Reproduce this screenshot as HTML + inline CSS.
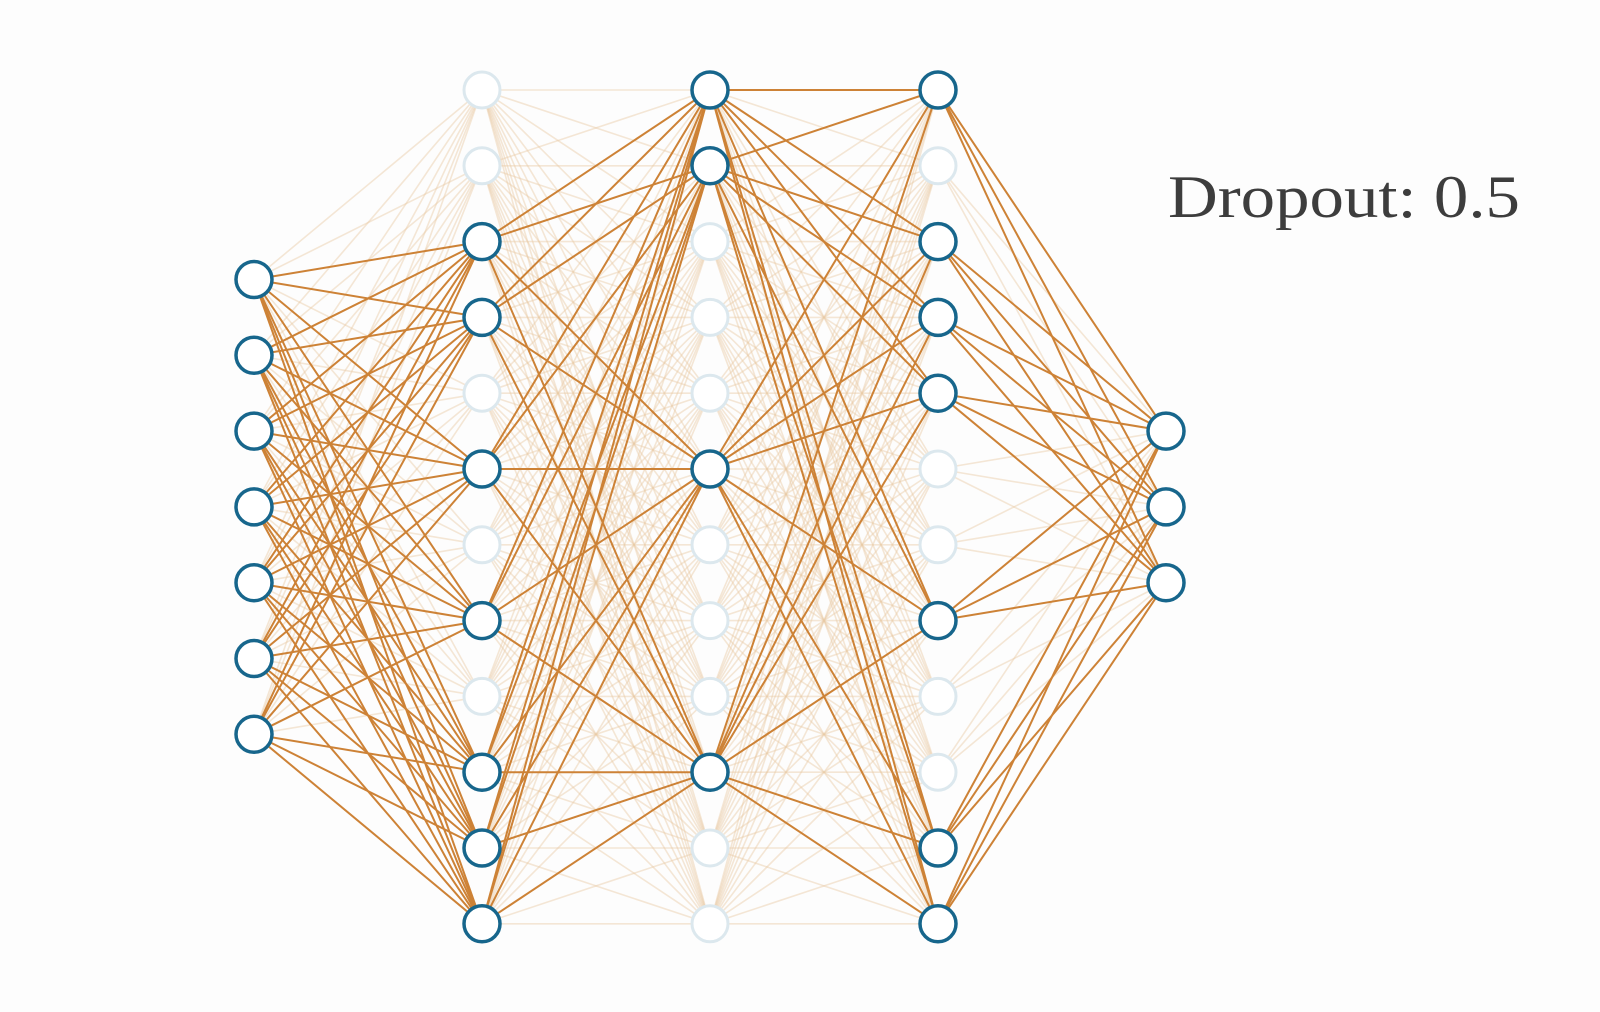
<!DOCTYPE html>
<html><head><meta charset="utf-8"><style>
html,body{margin:0;padding:0;background:#fdfdfd;}
svg{display:block;}
</style></head><body>
<svg id="chart" width="1600" height="1012" viewBox="0 0 1600 1012" xmlns="http://www.w3.org/2000/svg">
<rect x="0" y="0" width="1600" height="1012" fill="#fdfdfd"/>
<g id="edges-faint"></g>
<g id="edges-active"></g>
<g id="nodes"></g>
<text x="1168" y="217" font-family="Liberation Serif, DejaVu Serif, serif" font-size="60" fill="#3d3d3d" textLength="352" lengthAdjust="spacingAndGlyphs">Dropout: 0.5</text>
</svg>
<script>
// Layer sizes (row positions on a 12-row grid)
const layerRows = [
  [2.5,3.5,4.5,5.5,6.5,7.5,8.5],
  [0,1,2,3,4,5,6,7,8,9,10,11],
  [0,1,2,3,4,5,6,7,8,9,10,11],
  [0,1,2,3,4,5,6,7,8,9,10,11],
  [4.5,5.5,6.5]
];
// Which nodes are kept (not dropped) per layer
const activeInput = [2.5,3.5,4.5,5.5,6.5,7.5,8.5];
const activeHidden1 = [2,3,5,7,9,10,11];
const activeHidden2 = [0,1,5,9];
const activeHidden3 = [0,2,3,4,7,10,11];
const activeOutput = [4.5,5.5,6.5];
const dropoutRate = 0.5;

const activeSets = [activeInput, activeHidden1, activeHidden2, activeHidden3, activeOutput];
const xScale = i => 254 + i * 228;
const yScale = r => 90 + r * 75.8;
const NS = 'http://www.w3.org/2000/svg';
const gF = document.getElementById('edges-faint');
const gA = document.getElementById('edges-active');
const gN = document.getElementById('nodes');

for (let l = 0; l < layerRows.length - 1; l++) {
  for (const a of layerRows[l]) {
    for (const b of layerRows[l+1]) {
      const on = activeSets[l].includes(a) && activeSets[l+1].includes(b);
      const ln = document.createElementNS(NS, 'line');
      
      
      ln.setAttribute('x1', xScale(l)); ln.setAttribute('y1', yScale(a));
      ln.setAttribute('x2', xScale(l+1)); ln.setAttribute('y2', yScale(b));
      ln.setAttribute('stroke', on ? '#cd8236' : '#e9c9a4');
      ln.setAttribute('stroke-width', on ? 2 : 1.6);
      ln.setAttribute('stroke-opacity', on ? 1 : 0.45);
      (on ? gA : gF).appendChild(ln);
    }
  }
}
for (let l = 0; l < layerRows.length; l++) {
  for (const r of layerRows[l]) {
    const on = activeSets[l].includes(r);
    const c = document.createElementNS(NS, 'circle');
    
    
    c.setAttribute('cx', xScale(l)); c.setAttribute('cy', yScale(r));
    c.setAttribute('r', 18);
    c.setAttribute('fill', '#ffffff');
    c.setAttribute('stroke', on ? '#17668c' : '#dce8ee');
    c.setAttribute('stroke-width', on ? 3.5 : 3);
    gN.appendChild(c);
  }
}
</script>
</body></html>
